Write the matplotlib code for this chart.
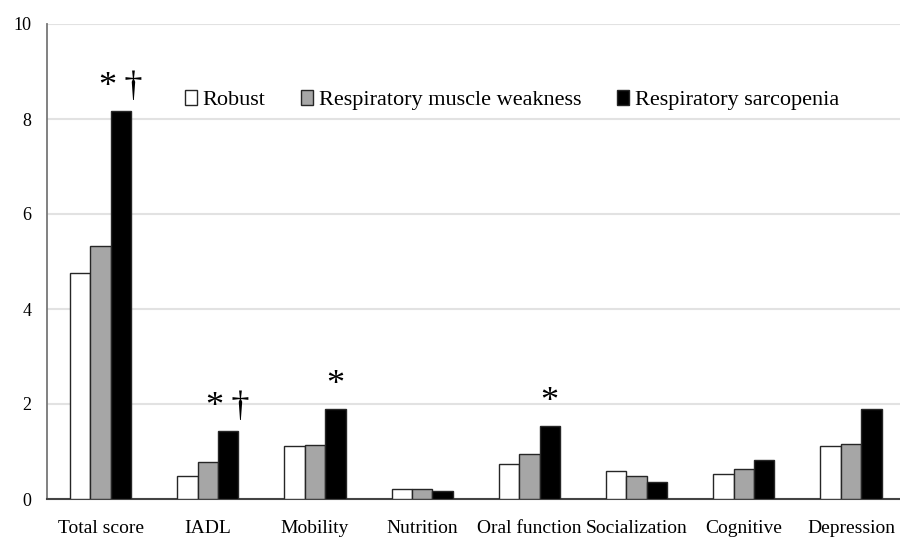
import matplotlib.pyplot as plt
import numpy as np

plt.rcParams['font.family'] = ['Liberation Serif', 'DejaVu Serif']

categories = ['Total score', 'IADL', 'Mobility', 'Nutrition', 'Oral function',
              'Socialization', 'Cognitive', 'Depression']
robust = [4.76, 0.49, 1.11, 0.21, 0.74, 0.59, 0.53, 1.12]
weakness = [5.33, 0.77, 1.14, 0.21, 0.94, 0.48, 0.64, 1.16]
sarcopenia = [8.16, 1.44, 1.90, 0.17, 1.54, 0.35, 0.82, 1.90]
marks = ['*\u2009†', '*\u2009†', '*', '', '*', '', '', '']

series = ['Robust', 'Respiratory muscle weakness', 'Respiratory sarcopenia']
colors = ['white', '#a6a6a6', 'black']

fig = plt.figure(figsize=(9, 5.38), dpi=100)
ax = fig.add_axes([47/900, 1-499/538, 1-47/900, (499-24)/538])

x = np.arange(len(categories))
w = 0.19
for i, (vals, c, lab) in enumerate(zip([robust, weakness, sarcopenia], colors, series)):
    ax.bar(x + (i-1)*w, vals, w, color=c, edgecolor='#262626', linewidth=1.0,
           label=lab, zorder=3)

for xi, v, m in zip(x, sarcopenia, marks):
    if m:
        ax.annotate(m, (xi + w, v), xytext=(0, 5), textcoords='offset points',
                    ha='center', va='bottom', fontsize=26)

ax.set_ylim(0, 10)
ax.set_xlim(-0.5, 7.457)
ax.set_yticks([0, 2, 4, 6, 8, 10])
ax.yaxis.grid(True, color='#e2e2e2', linewidth=1.5, zorder=0)
ax.set_xticks(x)
ax.set_xticklabels(categories, fontsize=14)
ax.tick_params(axis='y', length=0, labelsize=13, pad=11)
ax.tick_params(axis='x', length=0, pad=15)
for s in ['top', 'right']:
    ax.spines[s].set_visible(False)
ax.spines['left'].set_color('#777777')
ax.spines['left'].set_linewidth(1.3)
ax.spines['bottom'].set_color('#444444')
ax.spines['bottom'].set_linewidth(1.5)

fig.legend(loc='center', bbox_to_anchor=(512/900, 1-100/538), ncol=3, frameon=False,
           fontsize=16, handlelength=0.55, handleheight=0.7, handletextpad=0.25,
           columnspacing=1.6)

fig.savefig('out.png', dpi=100)
